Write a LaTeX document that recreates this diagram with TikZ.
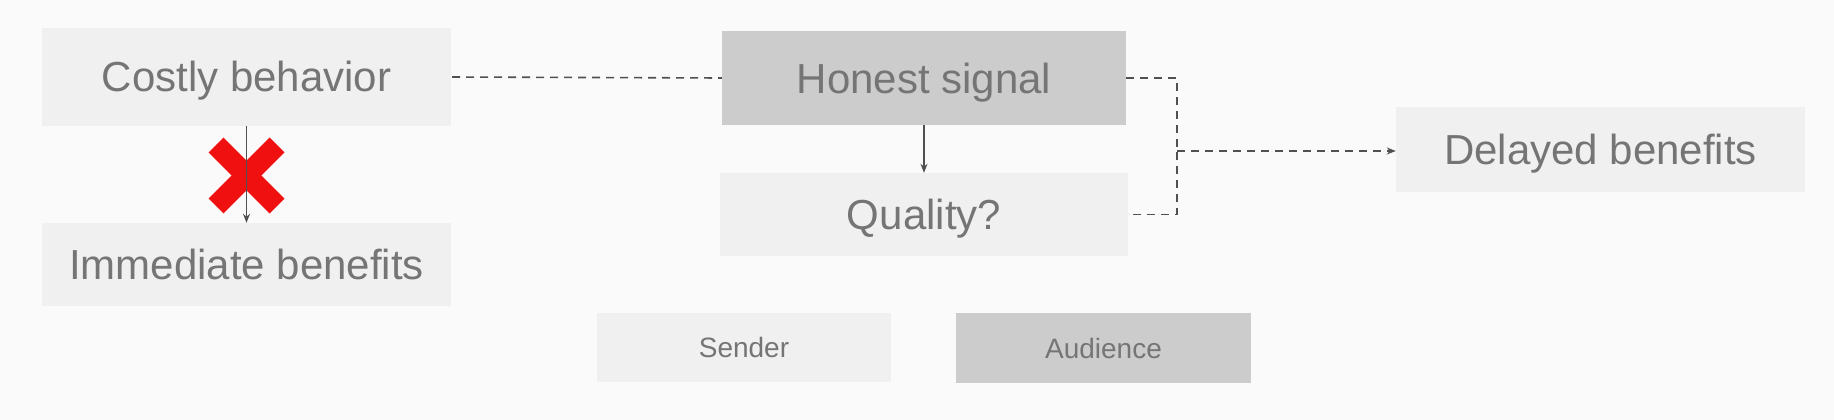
\documentclass[tikz,border=0pt]{standalone}
\usepackage{fontspec}
\setmainfont{Liberation Sans}
\usetikzlibrary{arrows.meta}
\definecolor{bgc}{HTML}{FAFAFA}
\definecolor{lightbox}{HTML}{F0F0F0}
\definecolor{darkbox}{HTML}{CCCCCC}
\definecolor{txt}{HTML}{757575}
\definecolor{lnc}{HTML}{505050}
\definecolor{xred}{HTML}{F01010}
\tikzset{
  bx/.style={inner sep=0pt, text=txt, font=\fontsize{42}{48}\selectfont, text height=30pt, text depth=0pt},
  lbox/.style={bx, fill=lightbox},
  dbox/.style={bx, fill=darkbox},
  small/.style={font=\fontsize{28}{32}\selectfont, text height=20pt},
  dsh/.style={draw=lnc, line width=1.6pt, dash pattern=on 8pt off 6pt},
  arr/.style={draw=lnc, line width=1.4pt, -{Stealth[length=9pt,width=7pt]}},
}
\begin{document}
\begin{tikzpicture}[x=1pt,y=-1pt]
\fill[bgc] (0,0) rectangle (1834,420);
\useasboundingbox (0,0) rectangle (1834,420);
\node[lbox, minimum width=409pt, minimum height=98pt] (costly) at (246.5,77) {Costly behavior};
\node[lbox, minimum width=409pt, minimum height=83pt] (immediate) at (246.5,264.5) {Immediate benefits};
\node[dbox, minimum width=404pt, minimum height=94pt] (honest) at (924,78) {Honest signal};
\node[lbox, minimum width=408pt, minimum height=83pt] (quality) at (924,214.5) {Quality?};
\node[lbox, minimum width=409pt, minimum height=85pt] (delayed) at (1600.5,149.5) {Delayed benefits};
\node[lbox, small, minimum width=294pt, minimum height=69pt] (sender) at (744,347.5) {Sender};
\node[dbox, small, minimum width=295pt, minimum height=70pt] (audience) at (1103.5,348) {Audience};
% red cross
\draw[xred, line width=21pt] (216,145) -- (277,206);
\draw[xred, line width=21pt] (277,145) -- (216,206);
% arrows
\draw[arr] (costly.south) -- (immediate.north);
\draw[arr] (honest.south) -- (quality.north);
% dashed connectors
\coordinate (bus) at (1177,151);
\draw[dsh] ([xshift=1pt]costly.east) -- (honest.west);
\draw[dsh] (honest.east) -| (bus);
\draw[dsh] ([xshift=5pt]quality.east) -| (bus);
\draw[dsh, -{Stealth[length=9pt,width=7pt]}] (bus) -- (bus -| delayed.west);
\end{tikzpicture}
\end{document}
